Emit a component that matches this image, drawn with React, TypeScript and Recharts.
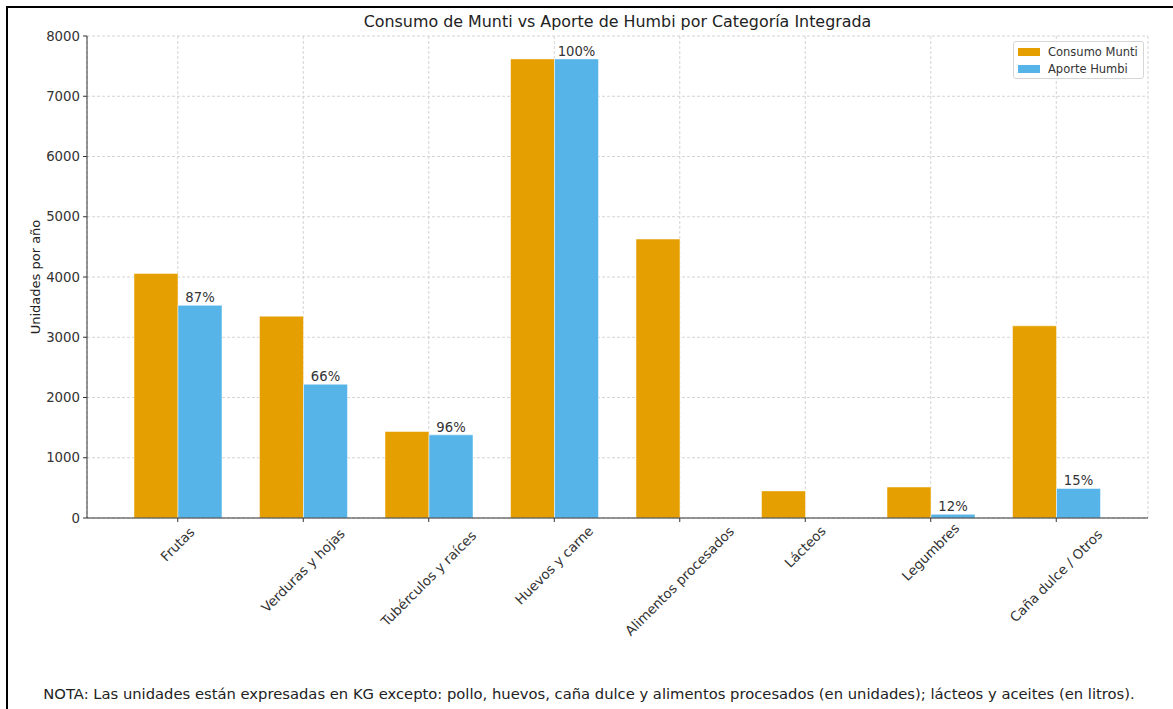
import React from 'react';
import { BarChart, Bar, XAxis, YAxis, CartesianGrid, LabelList } from 'recharts';

const categories = [
  'Frutas',
  'Verduras y hojas',
  'Tubérculos y raíces',
  'Huevos y carne',
  'Alimentos procesados',
  'Lácteos',
  'Legumbres',
  'Caña dulce / Otros',
];
const consumoMunti = [4060, 3350, 1435, 7620, 4630, 450, 515, 3190];
const aporteHumbi = [3530, 2220, 1380, 7620, 0, 0, 62, 490];
const yTicks = [0, 1000, 2000, 3000, 4000, 5000, 6000, 7000, 8000];

const ORANGE = '#E69F00';
const BLUE = '#56B4E9';
const FONT = '"DejaVu Sans", sans-serif';

const series = [
  { key: 'consumo', name: 'Consumo Munti', color: ORANGE },
  { key: 'aporte', name: 'Aporte Humbi', color: BLUE },
];

const rows = categories.map((name, i) => ({
  name,
  consumo: consumoMunti[i],
  aporte: aporteHumbi[i],
  pct: Math.round((aporteHumbi[i] / consumoMunti[i]) * 100),
}));

// rotated category label, its bounding box centred under the tick
const CategoryTick = (props: any) => {
  const { x, y, payload } = props;
  const w = String(payload.value).length * 7.45;
  const cy = y + (w + 13) * 0.3536;
  return (
    <text
      x={x}
      y={cy}
      transform={`rotate(-45 ${x} ${cy})`}
      textAnchor="middle"
      dominantBaseline="central"
      fontSize={13.4}
      fontFamily={FONT}
      fill="#333"
    >
      {payload.value}
    </text>
  );
};

// share of consumption covered, skipped where nothing is contributed
const PctLabel = (props: any) => {
  const { x, y, width, value } = props;
  if (!value) return null;
  return (
    <text
      x={x + width / 2}
      y={y - 3}
      textAnchor="middle"
      fontSize={13.2}
      fontFamily={FONT}
      fill="#333"
    >
      {value}%
    </text>
  );
};

export default function App() {
  return (
    <div
      style={{
        position: 'absolute',
        left: 0,
        top: 0,
        width: 1173,
        height: 709,
        background: '#fff',
        overflow: 'hidden',
        fontFamily: FONT,
      }}
    >
      <div
        style={{
          position: 'absolute',
          left: 6,
          top: 6,
          width: 1180,
          height: 720,
          borderLeft: '2px solid #000',
          borderTop: '2px solid #000',
        }}
      />
      <div
        style={{
          position: 'absolute',
          left: 87,
          width: 1061,
          top: 12,
          textAlign: 'center',
          fontSize: 15.9,
          color: '#222',
          whiteSpace: 'nowrap',
        }}
      >
        Consumo de Munti vs Aporte de Humbi por Categoría Integrada
      </div>
      <div
        style={{
          position: 'absolute',
          left: 35,
          top: 277,
          transform: 'translate(-50%, -50%) rotate(-90deg)',
          whiteSpace: 'nowrap',
          fontSize: 13,
          color: '#222',
        }}
      >
        Unidades por año
      </div>
      <div style={{ position: 'absolute', left: 0, top: 0 }}>
        <BarChart
          width={1173}
          height={709}
          data={rows}
          margin={{ top: 36, left: 27, right: 25, bottom: 91 }}
          barGap={0}
          barSize={44}
        >
          <CartesianGrid stroke="#d4d4d4" strokeDasharray="3 2" />
          <XAxis
            dataKey="name"
            padding={{ left: 28, right: 29 }}
            height={100}
            interval={0}
            tick={<CategoryTick />}
            tickSize={4}
            tickMargin={2}
            axisLine={{ stroke: '#333' }}
            tickLine={{ stroke: '#333' }}
          />
          <YAxis
            width={60}
            domain={[0, 8000]}
            ticks={yTicks}
            allowDataOverflow
            tickSize={4}
            tickMargin={3}
            axisLine={{ stroke: '#333' }}
            tickLine={{ stroke: '#333' }}
            tick={{ fontSize: 13.3, fontFamily: FONT, fill: '#333' }}
          />
          <Bar
            dataKey="consumo"
            name="Consumo Munti"
            fill={ORANGE}
            stroke="#fff"
            strokeWidth={0.5}
            isAnimationActive={false}
          />
          <Bar
            dataKey="aporte"
            name="Aporte Humbi"
            fill={BLUE}
            stroke="#fff"
            strokeWidth={0.5}
            isAnimationActive={false}
          >
            <LabelList dataKey="pct" content={<PctLabel />} />
          </Bar>
        </BarChart>
      </div>
      <div
        style={{
          position: 'absolute',
          left: 1013,
          top: 41,
          width: 120,
          border: '1px solid #d6d6d6',
          borderRadius: 3,
          background: 'rgba(255,255,255,0.85)',
          padding: '1px 5px 1px 4px',
          fontSize: 11.5,
          color: '#333',
        }}
      >
        {series.map((s) => (
          <div key={s.key} style={{ display: 'flex', alignItems: 'center', height: 17 }}>
            <span style={{ width: 22, height: 8, background: s.color, marginRight: 8, display: 'inline-block' }} />
            <span>{s.name}</span>
          </div>
        ))}
      </div>
      <div
        style={{
          position: 'absolute',
          left: 0,
          width: 1178,
          top: 685,
          textAlign: 'center',
          fontSize: 14.75,
          color: '#222',
          whiteSpace: 'nowrap',
        }}
      >
        NOTA: Las unidades están expresadas en KG excepto: pollo, huevos, caña dulce y alimentos procesados (en unidades); lácteos y aceites (en litros).
      </div>
    </div>
  );
}
